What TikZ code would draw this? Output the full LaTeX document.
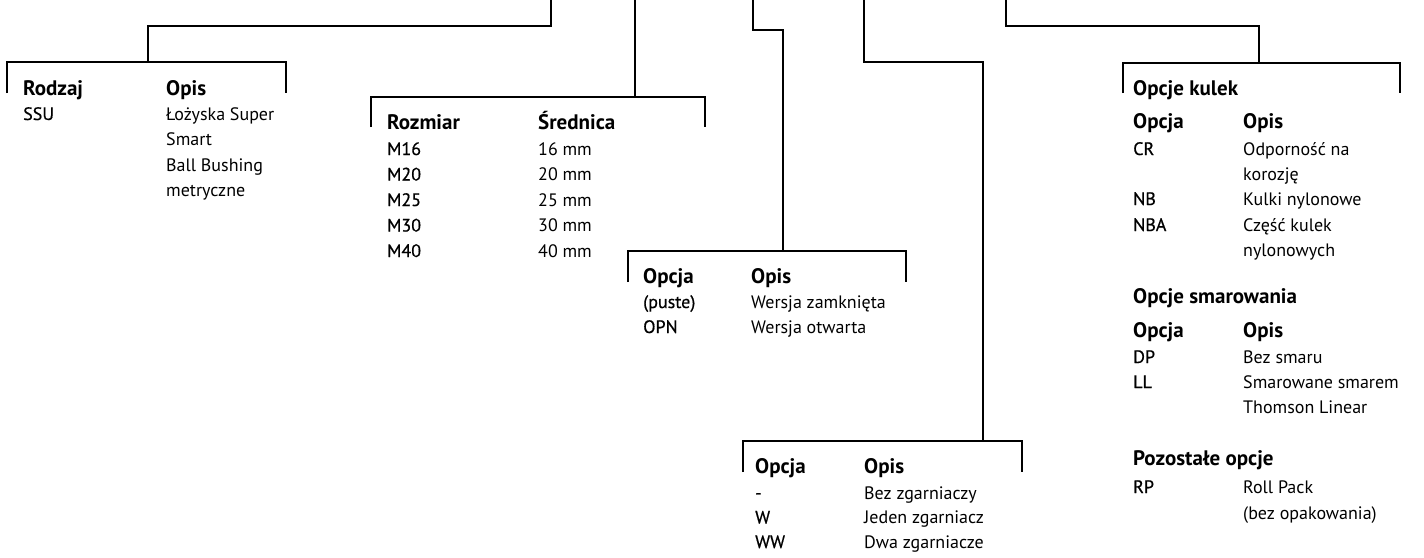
\documentclass[tikz,border=0pt]{standalone}
\usepackage{fontspec}
\setmainfont{PT Sans}
\newfontfamily\codefont[FakeBold=0.6]{PT Sans}
\tikzset{
  conn/.style={line width=2.8pt, line join=miter, line cap=butt},
  head/.style={anchor=base west, inner sep=0pt, font=\fontsize{21}{25}\selectfont\bfseries},
  code/.style={anchor=base west, inner sep=0pt, font=\codefont\fontsize{18}{22}\selectfont},
  desc/.style={anchor=base west, inner sep=0pt, font=\fontsize{18}{22}\selectfont},
}
\begin{document}
\begin{tikzpicture}[x=1pt,y=-1pt]
\useasboundingbox (0,0) rectangle (1424,557);
% free ends at top
\coordinate (tA) at (551,-4);
\coordinate (tB) at (635,-4);
\coordinate (tC) at (753,-4);
\coordinate (tD) at (864,-4);
\coordinate (tE) at (1006,-4);
% knees
\coordinate (kA) at (148,26);
\coordinate (kC) at (783,30);
\coordinate (kD) at (983,62);
\coordinate (kE) at (1259,26);
% bracket tops and ends
\coordinate (b1top) at (148,62);  \coordinate (b1l) at (7,93);    \coordinate (b1r) at (286,93);
\coordinate (b2top) at (635,97);  \coordinate (b2l) at (371,127); \coordinate (b2r) at (705,127);
\coordinate (b3top) at (783,251); \coordinate (b3l) at (628,282); \coordinate (b3r) at (906,282);
\coordinate (b4top) at (983,441); \coordinate (b4l) at (743,472); \coordinate (b4r) at (1022,472);
\coordinate (b5top) at (1259,63); \coordinate (b5l) at (1123,93); \coordinate (b5r) at (1400,93);

% connectors
\draw[conn] (tA) |- (kA) -- (b1top);
\draw[conn] (tB) -- (b2top);
\draw[conn] (tC) |- (kC) -- (b3top);
\draw[conn] (tD) |- (kD) -- (b4top);
\draw[conn] (tE) |- (kE) -- (b5top);
% brackets
\draw[conn] (b1l) |- (b1top) -| (b1r);
\draw[conn] (b2l) |- (b2top) -| (b2r);
\draw[conn] (b3l) |- (b3top) -| (b3r);
\draw[conn] (b4l) |- (b4top) -| (b4r);
\draw[conn] (b5l) |- (b5top) -| (b5r);

% table 1
\node[head] (h1a) at (23,95) {Rodzaj};
\node[head] (h1b) at (166,95) {Opis};
\node[code] (c1a) at (23,120) {SSU};
\node[desc] (d1a) at (166,120) {Łożyska Super};
\node[desc] (d1b) at (166,145.5) {Smart};
\node[desc] (d1c) at (166,171) {Ball Bushing};
\node[desc] (d1d) at (166,196) {metryczne};

% table 2
\node[head] (h2a) at (387,129) {Rozmiar};
\node[head] (h2b) at (538,129) {Średnica};
\node[code] (c2a) at (387,155) {M16};   \node[desc] (d2a) at (538,155) {16 mm};
\node[code] (c2b) at (387,180.5) {M20}; \node[desc] (d2b) at (538,180.5) {20 mm};
\node[code] (c2c) at (387,206) {M25};   \node[desc] (d2c) at (538,206) {25 mm};
\node[code] (c2d) at (387,231.5) {M30}; \node[desc] (d2d) at (538,231.5) {30 mm};
\node[code] (c2e) at (387,257) {M40};   \node[desc] (d2e) at (538,257) {40 mm};

% table 3
\node[head] (h3a) at (643,283) {Opcja};
\node[head] (h3b) at (751,283) {Opis};
\node[code] (c3a) at (643,308) {(puste)}; \node[desc] (d3a) at (751,308) {Wersja zamknięta};
\node[code] (c3b) at (643,333) {OPN};     \node[desc] (d3b) at (751,333) {Wersja otwarta};

% table 4
\node[head] (h4a) at (755,473) {Opcja};
\node[head] (h4b) at (864,473) {Opis};
\node[code] (c4a) at (755,499) {-};    \node[desc] (d4a) at (864,499) {Bez zgarniaczy};
\node[code] (c4b) at (755,523.5) {W};  \node[desc] (d4b) at (864,523.5) {Jeden zgarniacz};
\node[code] (c4c) at (755,548) {WW};   \node[desc] (d4c) at (864,548) {Dwa zgarniacze};

% table 5
\node[head] (t5a) at (1133,95) {Opcje kulek};
\node[head] (h5a) at (1133,128) {Opcja};
\node[head] (h5b) at (1243,128) {Opis};
\node[code] (c5a) at (1133,155) {CR};  \node[desc] (d5a) at (1243,155) {Odporność na};
\node[desc] (d5b) at (1243,180) {korozję};
\node[code] (c5b) at (1133,205) {NB};  \node[desc] (d5c) at (1243,205) {Kulki nylonowe};
\node[code] (c5c) at (1133,231) {NBA}; \node[desc] (d5d) at (1243,231) {Część kulek};
\node[desc] (d5e) at (1243,256) {nylonowych};

\node[head] (t5b) at (1133,303) {Opcje smarowania};
\node[head] (h5c) at (1133,337) {Opcja};
\node[head] (h5d) at (1243,337) {Opis};
\node[code] (c5d) at (1133,363) {DP};  \node[desc] (d5f) at (1243,363) {Bez smaru};
\node[code] (c5e) at (1133,388) {LL};  \node[desc] (d5g) at (1243,388) {Smarowane smarem};
\node[desc] (d5h) at (1243,413) {Thomson Linear};

\node[head] (t5c) at (1133,465) {Pozostałe opcje};
\node[code] (c5f) at (1133,493) {RP};  \node[desc] (d5i) at (1243,493) {Roll Pack};
\node[desc] (d5j) at (1243,519) {(bez opakowania)};
\end{tikzpicture}
\end{document}
